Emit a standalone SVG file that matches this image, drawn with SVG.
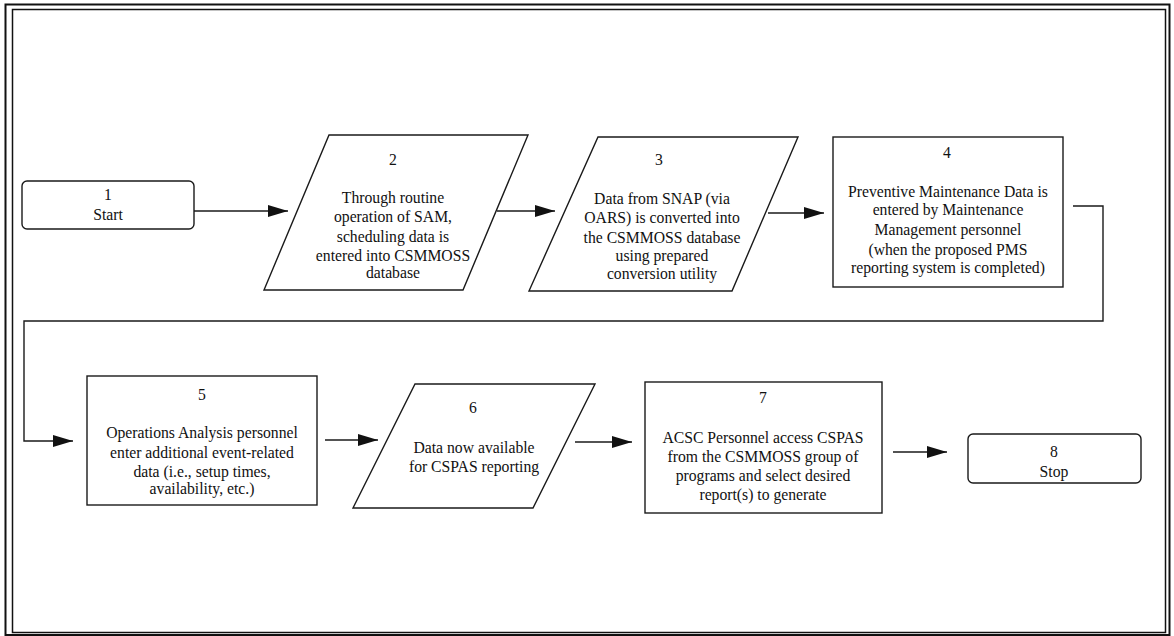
<svg xmlns="http://www.w3.org/2000/svg" width="1174" height="636" viewBox="0 0 1174 636">
  <style>
    .frame { fill: none; stroke: #111; }
    .shape { fill: #fff; stroke: #1a1a1a; stroke-width: 1.4; }
    .conn { fill: none; stroke: #1a1a1a; stroke-width: 1.4; }
    text { font-family: "Liberation Serif", "Times New Roman", serif; font-size: 15.7px; fill: #111; text-anchor: middle; }
  </style>
  <defs>
    <marker id="arrow" markerUnits="userSpaceOnUse" markerWidth="21" markerHeight="12" refX="20" refY="6" orient="auto">
      <path d="M0,0 L20,6 L0,12 Z" fill="#111"/>
    </marker>
  </defs>

  <rect width="1174" height="636" fill="#fff"/>

  <!-- double page frame -->
  <rect class="frame" x="5.5" y="4.5" width="1164" height="630.5" stroke-width="2"/>
  <rect class="frame" x="12.5" y="9.5" width="1153" height="623" stroke-width="1.5"/>

  <g id="connectors">
    <line class="conn" x1="194" y1="211" x2="288" y2="211" marker-end="url(#arrow)"/>
    <line class="conn" x1="497" y1="211" x2="555" y2="211" marker-end="url(#arrow)"/>
    <line class="conn" x1="768" y1="213" x2="824" y2="213" marker-end="url(#arrow)"/>
    <polyline class="conn" points="1073,206 1103,206 1103,321 24,321 24,441 73,441" marker-end="url(#arrow)"/>
    <line class="conn" x1="325" y1="440" x2="378" y2="440" marker-end="url(#arrow)"/>
    <line class="conn" x1="575" y1="442" x2="632" y2="442" marker-end="url(#arrow)"/>
    <line class="conn" x1="893" y1="452" x2="947" y2="452" marker-end="url(#arrow)"/>
  </g>

  <g id="node1">
    <rect class="shape" x="22" y="181" width="172" height="48" rx="5"/>
    <text x="108" y="200">1</text>
    <text x="108" y="220">Start</text>
  </g>

  <g id="node2">
    <polygon class="shape" points="329,135 528,135 463,290 264,290"/>
    <text x="393" y="165">2</text>
    <text x="393" y="203">Through routine</text>
    <text x="393" y="222">operation of SAM,</text>
    <text x="393" y="242">scheduling data is</text>
    <text x="393" y="261">entered into CSMMOSS</text>
    <text x="393" y="278">database</text>
  </g>

  <g id="node3">
    <polygon class="shape" points="598,137 798,137 732,291 529,291"/>
    <text x="659" y="165">3</text>
    <text x="662" y="204">Data from SNAP (via</text>
    <text x="662" y="223">OARS) is converted into</text>
    <text x="662" y="243">the CSMMOSS database</text>
    <text x="662" y="261">using prepared</text>
    <text x="662" y="279">conversion utility</text>
  </g>

  <g id="node4">
    <rect class="shape" x="833" y="137" width="230" height="150"/>
    <text x="947" y="158">4</text>
    <text x="948" y="197">Preventive Maintenance Data is</text>
    <text x="948" y="215">entered by Maintenance</text>
    <text x="948" y="235">Management personnel</text>
    <text x="948" y="255">(when the proposed PMS</text>
    <text x="948" y="273">reporting system is completed)</text>
  </g>

  <g id="node5">
    <rect class="shape" x="87" y="376" width="230" height="129"/>
    <text x="202" y="400">5</text>
    <text x="202" y="438">Operations Analysis personnel</text>
    <text x="202" y="458">enter additional event-related</text>
    <text x="202" y="477">data (i.e., setup times,</text>
    <text x="202" y="494">availability, etc.)</text>
  </g>

  <g id="node6">
    <polygon class="shape" points="415,384 595,384 533,508 353,508"/>
    <text x="473" y="413">6</text>
    <text x="474" y="453">Data now available</text>
    <text x="474" y="472">for CSPAS reporting</text>
  </g>

  <g id="node7">
    <rect class="shape" x="645" y="382" width="237" height="131"/>
    <text x="763" y="403">7</text>
    <text x="763" y="443">ACSC Personnel access CSPAS</text>
    <text x="763" y="462">from the CSMMOSS group of</text>
    <text x="763" y="481">programs and select desired</text>
    <text x="763" y="500">report(s) to generate</text>
  </g>

  <g id="node8">
    <rect class="shape" x="968" y="434" width="173" height="49" rx="5"/>
    <text x="1054" y="457">8</text>
    <text x="1054" y="477">Stop</text>
  </g>
</svg>
